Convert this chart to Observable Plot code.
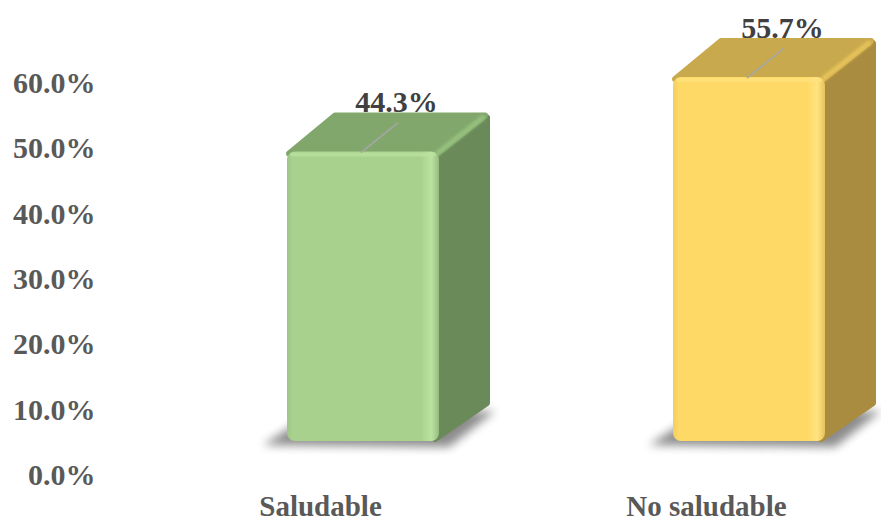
<!DOCTYPE html>
<html><head><meta charset="utf-8">
<script src="https://cdn.jsdelivr.net/npm/d3@7"></script>
<script src="https://cdn.jsdelivr.net/npm/@observablehq/plot@0.6"></script>
<style>body{margin:0;background:#fff}</style>
</head><body><div id="chart"></div>
<script>
const categories = ["Saludable", "No saludable"];
const values = [44.3, 55.7];
const yTicks = [0, 10, 20, 30, 40, 50, 60];
const frontColors = ["#A9D18E", "#FFD966"];
const frontLight = ["#BCE2A0", "#FFE27F"];
const topColors = ["#82A76D", "#C8A94E"];
const sideColors = ["#6B8A5A", "#A98C3F"];

const data = categories.map((c, i) => ({category: c, value: values[i], i}));

const FRONT_DY = -34;   // front face sits above the back wall baseline
const DEPTH_X = 48, DEPTH_Y = -38;
const FONT = "'Liberation Serif', 'Times New Roman', serif";

function box3d(index, scales) {
  const {x, y} = scales;
  const bw = x.bandwidth();
  const g = d3.create("svg:g");
  const defs = g.append("defs");
  const blur = defs.append("filter").attr("id", "shadowBlur")
    .attr("x", "-50%").attr("y", "-50%").attr("width", "200%").attr("height", "200%");
  blur.append("feGaussianBlur").attr("stdDeviation", 5);
  const soft = defs.append("filter").attr("id", "softEdge")
    .attr("x", "-50%").attr("y", "-50%").attr("width", "200%").attr("height", "200%");
  soft.append("feGaussianBlur").attr("stdDeviation", 1.5);
  data.forEach(d => {
    const gr = defs.append("linearGradient").attr("id", "front" + d.i)
      .attr("x1", 0).attr("x2", 1).attr("y1", 0).attr("y2", 0);
    gr.append("stop").attr("offset", "0%").attr("stop-color", d3.color(frontColors[d.i]).darker(0.15));
    gr.append("stop").attr("offset", "4%").attr("stop-color", frontColors[d.i]);
    gr.append("stop").attr("offset", "88%").attr("stop-color", frontColors[d.i]);
    gr.append("stop").attr("offset", "95%").attr("stop-color", frontLight[d.i]);
    gr.append("stop").attr("offset", "100%").attr("stop-color", d3.color(frontColors[d.i]).darker(0.3));
  });
  for (const d of data) {
    const x0 = x(d.category), x1 = x0 + bw;
    const yb = y(0) + FRONT_DY, yt = y(d.value) + FRONT_DY;
    // shadow
    g.append("polygon")
      .attr("points", [[x0 - 24, yb + 4], [x1 + 10, yb + 6], [x1 + DEPTH_X + 8, yb + DEPTH_Y + 8], [x0 + DEPTH_X - 22, yb + DEPTH_Y + 10]].join(" "))
      .attr("fill", "#000").attr("opacity", 0.45).attr("filter", "url(#shadowBlur)");
    // side face
    g.append("polygon")
      .attr("points", [[x1 - 4, yt + 2], [x1 + DEPTH_X, yt + DEPTH_Y + 4], [x1 + DEPTH_X, yb + DEPTH_Y], [x1 - 4, yb - 2]].join(" "))
      .attr("fill", sideColors[d.i]).attr("stroke", sideColors[d.i]).attr("stroke-linejoin", "round").attr("stroke-width", 6);
    // top face
    g.append("polygon")
      .attr("points", [[x0 + 2, yt + 2], [x0 + DEPTH_X, yt + DEPTH_Y + 2], [x1 + DEPTH_X - 2, yt + DEPTH_Y + 2], [x1 - 2, yt + 2]].join(" "))
      .attr("fill", topColors[d.i]).attr("stroke", topColors[d.i]).attr("stroke-linejoin", "round").attr("stroke-width", 6);
    // bevel highlight along top/side edge
    g.append("line")
      .attr("x1", x1 - 2).attr("y1", yt + 2)
      .attr("x2", x1 + DEPTH_X - 4).attr("y2", yt + DEPTH_Y + 4)
      .attr("stroke", d3.color(topColors[d.i]).brighter(0.5)).attr("stroke-width", 5)
      .attr("stroke-linecap", "round").attr("opacity", 0.8).attr("filter", "url(#softEdge)");
    // front face
    g.append("rect")
      .attr("x", x0).attr("y", yt).attr("width", bw).attr("height", yb - yt)
      .attr("rx", 8).attr("fill", `url(#front${d.i})`);
    // top highlight of front
    g.append("rect")
      .attr("x", x0 + 3).attr("y", yt + 1).attr("width", bw - 6).attr("height", 4)
      .attr("rx", 2).attr("fill", frontLight[d.i]).attr("opacity", 0.7);
    // leader line
    g.append("line")
      .attr("x1", x0 + bw / 2 - 2).attr("y1", yt + 1)
      .attr("x2", x0 + bw / 2 + 35).attr("y2", yt - 29)
      .attr("stroke", "#A6A6A6").attr("stroke-width", 1.5);
  }
  return g.node();
}

const chart = Plot.plot({
  width: 881,
  height: 523,
  marginTop: 83,
  marginBottom: 48,
  marginLeft: 100,
  marginRight: 10,
  style: `font-family: ${FONT}; font-weight: bold; color: #595959; background: #fff;`,
  x: {type: "band", domain: categories, range: [286, 825], paddingInner: 0.607, paddingOuter: 0},
  y: {domain: [0, 60]},
  marks: [
    Plot.axisY({ticks: yTicks, tickFormat: d => d.toFixed(1) + "%", tickSize: 0, tickPadding: 5, fontSize: 30, fontFamily: FONT, fontWeight: "bold", label: null}),
    Plot.axisX({tickSize: 0, tickPadding: 20, fontSize: 29, fontFamily: FONT, fontWeight: "bold", dx: -43, label: null}),
    box3d,
    Plot.text(data, {x: "category", y: "value", text: d => d.value.toFixed(1) + "%", dx: 33, dy: FRONT_DY - 40, lineAnchor: "bottom", fontSize: 30, fontFamily: FONT, fontWeight: "bold", fill: "#404040"})
  ]
});
document.getElementById("chart").append(chart);
</script>
</body></html>
